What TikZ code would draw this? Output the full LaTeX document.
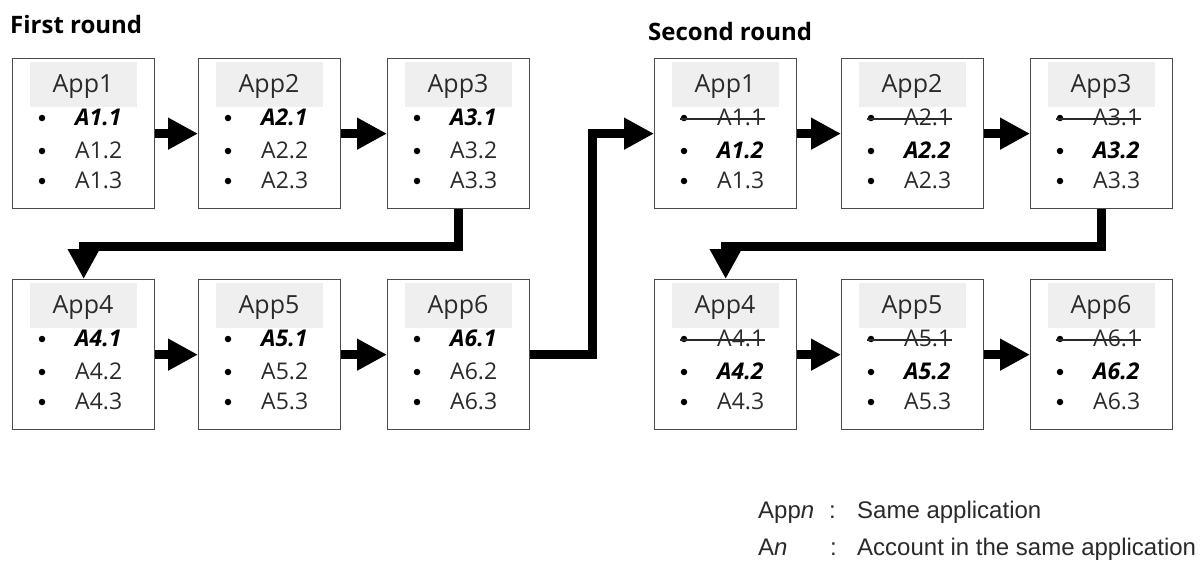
\documentclass[tikz,border=0pt]{standalone}
\usepackage{fontspec}
\setmainfont{Open Sans}
\newfontfamily\legfont{Liberation Sans}
\usetikzlibrary{arrows.meta}
\definecolor{txt}{HTML}{2A2A2A}
\definecolor{hdr}{HTML}{EFEFEF}
\definecolor{boxline}{HTML}{4A4A4A}
\tikzset{
 appbox/.style={draw=boxline, line width=1.3pt, minimum width=142pt, minimum height=150pt, inner sep=0pt, anchor=north west},
 hdrtext/.style={anchor=base, font=\fontsize{25}{30}\selectfont, text=txt, inner sep=0pt},
 itemtext/.style={anchor=base west, font=\fontsize{23}{28}\selectfont, text=txt, inner sep=0pt},
 bolditem/.style={anchor=base west, font=\fontsize{23}{28}\selectfont\bfseries\itshape, text=black, inner sep=0pt},
 bulletdot/.style={circle, fill=black, inner sep=0pt, minimum size=6.5pt},
 strikeline/.style={draw=txt, line width=1.4pt},
 flow/.style={line width=9pt, -{Triangle[width=30pt,length=30pt]}, line join=miter},
 titletext/.style={anchor=base west, font=\fontsize{24}{28}\selectfont\bfseries, inner sep=0pt},
 legtext/.style={anchor=base west, font=\legfont\fontsize{24}{28}\selectfont, text=txt, inner sep=0pt},
}
\newcommand\AppBox[5]{%
 \node[appbox] (#1) at (#2,#3) {};
 \fill[hdr] (#2+18,#3+4) rectangle (#2+125,#3+49);
 \node[hdrtext] (#1h) at (#2+71,#3+34) {App#4};
 \node[bulletdot] (#1b1) at (#2+30,#3+60) {};
 \node[bulletdot] (#1b2) at (#2+30,#3+93) {};
 \node[bulletdot] (#1b3) at (#2+30,#3+123) {};
 \ifnum#5=1
   \node[bolditem] (#1i1) at (#2+63,#3+67) {A#4.1};
   \node[itemtext] (#1i2) at (#2+63,#3+100) {A#4.2};
 \else
   \node[itemtext] (#1i1) at (#2+63,#3+67) {A#4.1};
   \draw[strikeline] (#2+26,#3+61) -- (#2+111,#3+61);
   \node[bolditem] (#1i2) at (#2+63,#3+100) {A#4.2};
 \fi
 \node[itemtext] (#1i3) at (#2+63,#3+130) {A#4.3};
}
\begin{document}
\begin{tikzpicture}[x=1pt,y=-1pt]
\useasboundingbox (0,0) rectangle (1202,570);
\node[titletext] (t1) at (10,33) {First round};
\node[titletext] (t2) at (648,40) {Second round};
% first round
\AppBox{a1}{12}{58}{1}{1}
\AppBox{a2}{198}{58}{2}{1}
\AppBox{a3}{387}{58}{3}{1}
\AppBox{a4}{12}{279}{4}{1}
\AppBox{a5}{198}{279}{5}{1}
\AppBox{a6}{387}{279}{6}{1}
% second round
\AppBox{c1}{654}{58}{1}{2}
\AppBox{c2}{841}{58}{2}{2}
\AppBox{c3}{1030}{58}{3}{2}
\AppBox{c4}{654}{279}{4}{2}
\AppBox{c5}{841}{279}{5}{2}
\AppBox{c6}{1030}{279}{6}{2}
% connectors
\draw[flow] (a1) -- (a2);
\draw[flow] (a2) -- (a3);
\draw[flow] (a3.south) -- ++(0,37) -| (a4.north);
\draw[flow] (a4) -- (a5);
\draw[flow] (a5) -- (a6);
\draw[flow] (a6.east) -- ++(62,0) |- (c1.west);
\draw[flow] (c1) -- (c2);
\draw[flow] (c2) -- (c3);
\draw[flow] (c3.south) -- ++(0,37) -| (c4.north);
\draw[flow] (c4) -- (c5);
\draw[flow] (c5) -- (c6);
% legend
\node[legtext] (l1) at (758,518) {App\textit{n}};
\node[legtext] (l1c) at (829,518) {:};
\node[legtext] (l1t) at (857,518) {Same application};
\node[legtext] (l2) at (758,555) {A\textit{n}};
\node[legtext] (l2c) at (830,555) {:};
\node[legtext] (l2t) at (857,555) {Account in the same application};
\end{tikzpicture}
\end{document}
